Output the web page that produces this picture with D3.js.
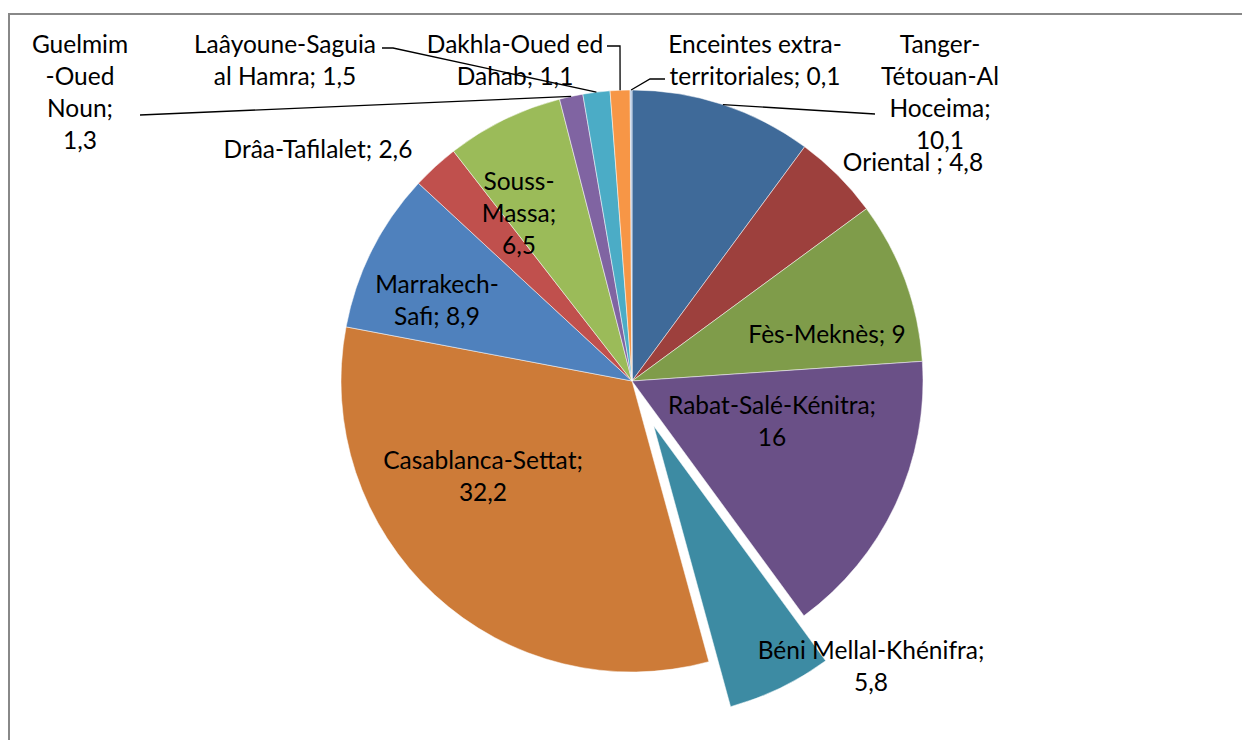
<!DOCTYPE html>
<html>
<head>
<meta charset="utf-8">
<script src="https://cdn.jsdelivr.net/npm/d3@7"></script>
<style>
  body { margin: 0; background: #fff; }
  svg text { font-family: Lato, "Open Sans", sans-serif; fill: #000; }
</style>
</head>
<body>
<svg id="chart" width="1242" height="740"></svg>
<script>
// regions, clockwise from 12 o'clock
const regions = [
  'Tanger-Tétouan-Al Hoceima', 'Oriental', 'Fès-Meknès', 'Rabat-Salé-Kénitra',
  'Béni Mellal-Khénifra', 'Casablanca-Settat', 'Marrakech-Safi', 'Drâa-Tafilalet',
  'Souss-Massa', 'Guelmim-Oued Noun', 'Laâyoune-Saguia al Hamra',
  'Dakhla-Oued ed Dahab', 'Enceintes extra-territoriales'
];
const shares = [10.1, 4.8, 9, 16, 5.8, 32.2, 8.9, 2.6, 6.5, 1.3, 1.5, 1.1, 0.1];
// how each label wraps; {v} is the value
const labelLines = [
  ['Tanger-', 'Tétouan-Al', 'Hoceima;', '{v}'],
  ['Oriental ; {v}'],
  ['Fès-Meknès; {v}'],
  ['Rabat-Salé-Kénitra;', '{v}'],
  ['Béni Mellal-Khénifra;', '{v}'],
  ['Casablanca-Settat;', '{v}'],
  ['Marrakech-', 'Safi; {v}'],
  ['Drâa-Tafilalet; {v}'],
  ['Souss-', 'Massa;', '{v}'],
  ['Guelmim', '-Oued', 'Noun;', '{v}'],
  ['Laâyoune-Saguia', 'al Hamra; {v}'],
  ['Dakhla-Oued ed', 'Dahab; {v}'],
  ['Enceintes extra-', 'territoriales; {v}']
];
const colors = [
  '#3f6a99', '#9d403d', '#7f9c4a', '#6a5087', '#3d8ba3', '#cd7b38', '#4f81bd',
  '#c0504d', '#9bbb59', '#8064a2', '#4bacc6', '#f79646', '#a7bfde'
];

const svg = d3.select('#chart');
const cx = 632, cy = 381, radius = 291;
const explodeIndex = 4, explodeBy = 50;

// chart frame (right and bottom edges run past the picture)
svg.append('rect')
  .attr('x', 9).attr('y', 14)
  .attr('width', 1260).attr('height', 760)
  .attr('fill', 'none')
  .attr('stroke', '#888')
  .attr('stroke-width', 2);

const pie = d3.pie().sort(null).value(d => d);
const arcs = pie(shares);
const arc = d3.arc().innerRadius(0).outerRadius(radius);

const g = svg.append('g').attr('transform', `translate(${cx},${cy})`);

const offset = (d, i) => {
  if (i !== explodeIndex) return [0, 0];
  const a = (d.startAngle + d.endAngle) / 2;
  return [Math.sin(a) * explodeBy, -Math.cos(a) * explodeBy];
};

g.selectAll('path')
  .data(arcs)
  .enter()
  .append('path')
  .attr('d', arc)
  .attr('transform', (d, i) => `translate(${offset(d, i)})`)
  .attr('fill', (d, i) => colors[i])
  .attr('stroke', '#fff')
  .attr('stroke-width', 0.5);

// label placement: centre x, first line centre y, and an optional leader path
const labelPos = [
  { x: 940, y: 44, leader: [[875, 114]] },
  { x: 913, y: 162 },
  { x: 827, y: 334 },
  { x: 772, y: 405 },
  { x: 871, y: 650 },
  { x: 483, y: 460 },
  { x: 437, y: 284 },
  { x: 318, y: 149 },
  { x: 519, y: 181 },
  { x: 80, y: 44, leader: [[140, 115]] },
  { x: 285, y: 44, leader: [[382, 48], [393, 48]] },
  { x: 515, y: 44, leader: [[607, 46], [620, 46]] },
  { x: 755, y: 44, leader: [[665, 79], [650, 79]] }
];
const lineH = 32;
const fmt = v => String(v).replace('.', ',');

// leader lines run to the slice edge at its mid angle
const leaderLine = d3.line();
arcs.forEach((d, i) => {
  const p = labelPos[i];
  if (!p.leader) return;
  const a = (d.startAngle + d.endAngle) / 2;
  const end = [cx + Math.sin(a) * radius, cy - Math.cos(a) * radius];
  svg.append('path')
    .attr('d', leaderLine(p.leader.concat([end])))
    .attr('fill', 'none')
    .attr('stroke', '#000')
    .attr('stroke-width', 1.3);
});

arcs.forEach((d, i) => {
  const p = labelPos[i];
  const t = svg.append('text')
    .attr('text-anchor', 'middle')
    .attr('font-size', 24.5);
  labelLines[i].forEach((line, k) => {
    t.append('tspan')
      .attr('x', p.x)
      .attr('y', p.y + k * lineH)
      .attr('dy', '0.35em')
      .text(line.replace('{v}', fmt(shares[i])));
  });
});
</script>
</body>
</html>
